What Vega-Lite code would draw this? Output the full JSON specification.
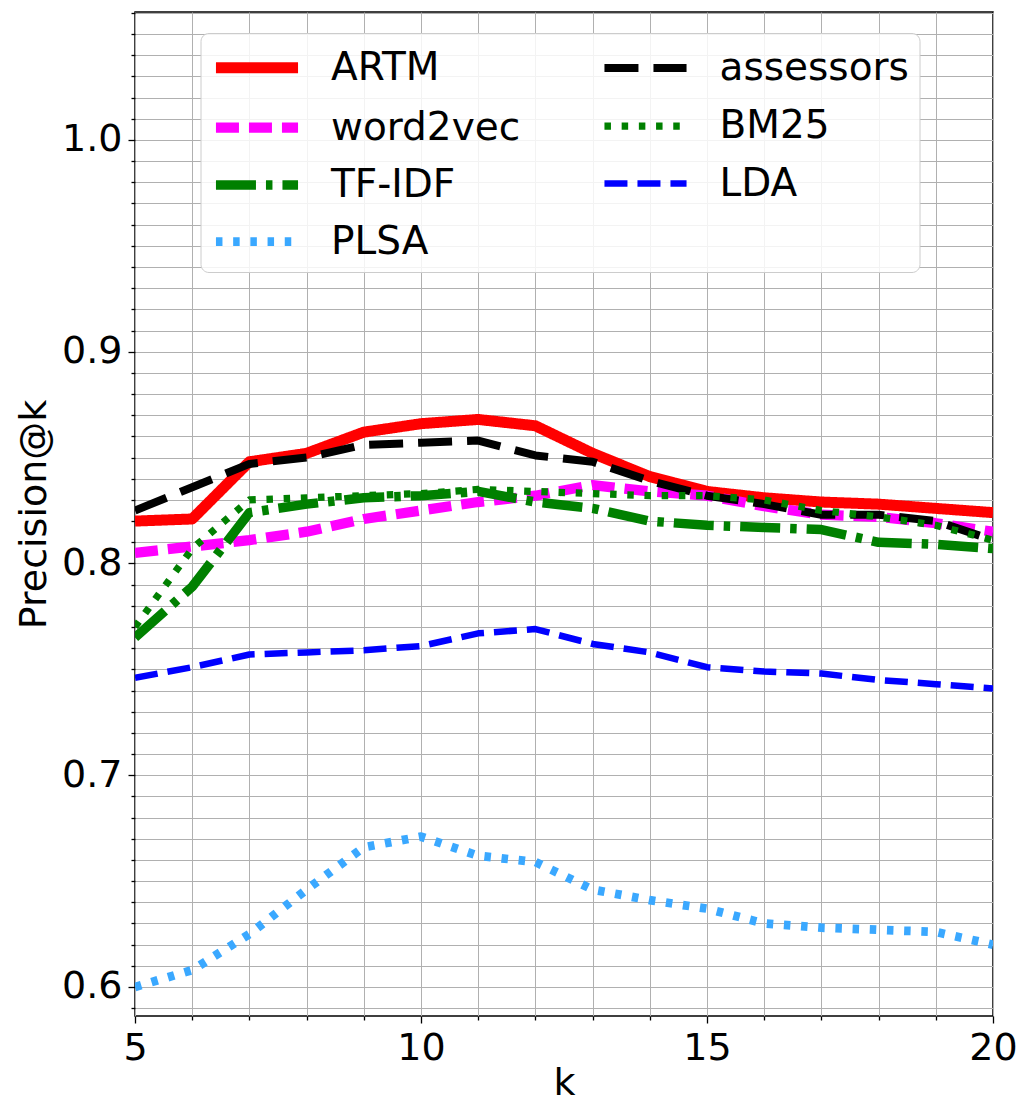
{
  "$schema": "https://vega.github.io/schema/vega-lite/v6.json",
  "width": 858,
  "height": 1004,
  "autosize": {"type": "none"},
  "padding": {"left": 135, "top": 12, "right": 30, "bottom": 89},
  "background": "white",
  "config": {
    "view": {"stroke": "black", "strokeWidth": 1.5},
    "font": "DejaVu Sans",
    "axis": {
      "labelFont": "DejaVu Sans",
      "titleFont": "DejaVu Sans",
      "labelFontSize": 38,
      "titleFontSize": 38,
      "titleFontWeight": "normal",
      "labelColor": "black",
      "titleColor": "black",
      "tickColor": "black",
      "domainColor": "black",
      "gridColor": "#b0b0b0",
      "gridWidth": 1,
      "gridOpacity": 1
    },
    "legend": {
      "orient": "none",
      "legendX": 65.5,
      "legendY": 21,
      "columns": 2,
      "symbolType": "M-2.16,0H2.16",
      "symbolSize": 1444,
      "symbolOffset": 22,
      "labelFont": "DejaVu Sans",
      "labelFontSize": 39,
      "labelColor": "black",
      "labelOffset": 49.5,
      "labelLimit": 0,
      "columnPadding": 67.5,
      "rowPadding": 13,
      "padding": 10,
      "cornerRadius": 8,
      "strokeColor": "#cccccc",
      "fillColor": "rgba(255,255,255,0.85)"
    }
  },
  "data": {
    "values": [
      {"k": 5, "method": "ARTM", "p": 0.820}, {"k": 6, "method": "ARTM", "p": 0.821}, {"k": 7, "method": "ARTM", "p": 0.848}, {"k": 8, "method": "ARTM", "p": 0.852},
      {"k": 9, "method": "ARTM", "p": 0.862}, {"k": 10, "method": "ARTM", "p": 0.866}, {"k": 11, "method": "ARTM", "p": 0.868}, {"k": 12, "method": "ARTM", "p": 0.865},
      {"k": 13, "method": "ARTM", "p": 0.852}, {"k": 14, "method": "ARTM", "p": 0.841}, {"k": 15, "method": "ARTM", "p": 0.834}, {"k": 16, "method": "ARTM", "p": 0.831},
      {"k": 17, "method": "ARTM", "p": 0.829}, {"k": 18, "method": "ARTM", "p": 0.828}, {"k": 19, "method": "ARTM", "p": 0.826}, {"k": 20, "method": "ARTM", "p": 0.824},

      {"k": 5, "method": "word2vec", "p": 0.805}, {"k": 6, "method": "word2vec", "p": 0.808}, {"k": 7, "method": "word2vec", "p": 0.811}, {"k": 8, "method": "word2vec", "p": 0.815},
      {"k": 9, "method": "word2vec", "p": 0.821}, {"k": 10, "method": "word2vec", "p": 0.825}, {"k": 11, "method": "word2vec", "p": 0.829}, {"k": 12, "method": "word2vec", "p": 0.832},
      {"k": 13, "method": "word2vec", "p": 0.837}, {"k": 14, "method": "word2vec", "p": 0.834}, {"k": 15, "method": "word2vec", "p": 0.832}, {"k": 16, "method": "word2vec", "p": 0.827},
      {"k": 17, "method": "word2vec", "p": 0.823}, {"k": 18, "method": "word2vec", "p": 0.822}, {"k": 19, "method": "word2vec", "p": 0.819}, {"k": 20, "method": "word2vec", "p": 0.815},

      {"k": 5, "method": "TF-IDF", "p": 0.765}, {"k": 6, "method": "TF-IDF", "p": 0.789}, {"k": 7, "method": "TF-IDF", "p": 0.824}, {"k": 8, "method": "TF-IDF", "p": 0.828},
      {"k": 9, "method": "TF-IDF", "p": 0.831}, {"k": 10, "method": "TF-IDF", "p": 0.832}, {"k": 11, "method": "TF-IDF", "p": 0.834}, {"k": 12, "method": "TF-IDF", "p": 0.829},
      {"k": 13, "method": "TF-IDF", "p": 0.826}, {"k": 14, "method": "TF-IDF", "p": 0.820}, {"k": 15, "method": "TF-IDF", "p": 0.818}, {"k": 16, "method": "TF-IDF", "p": 0.817},
      {"k": 17, "method": "TF-IDF", "p": 0.816}, {"k": 18, "method": "TF-IDF", "p": 0.810}, {"k": 19, "method": "TF-IDF", "p": 0.809}, {"k": 20, "method": "TF-IDF", "p": 0.807},

      {"k": 5, "method": "PLSA", "p": 0.600}, {"k": 6, "method": "PLSA", "p": 0.608}, {"k": 7, "method": "PLSA", "p": 0.625}, {"k": 8, "method": "PLSA", "p": 0.646},
      {"k": 9, "method": "PLSA", "p": 0.666}, {"k": 10, "method": "PLSA", "p": 0.671}, {"k": 11, "method": "PLSA", "p": 0.662}, {"k": 12, "method": "PLSA", "p": 0.659},
      {"k": 13, "method": "PLSA", "p": 0.646}, {"k": 14, "method": "PLSA", "p": 0.641}, {"k": 15, "method": "PLSA", "p": 0.637}, {"k": 16, "method": "PLSA", "p": 0.630},
      {"k": 17, "method": "PLSA", "p": 0.628}, {"k": 18, "method": "PLSA", "p": 0.627}, {"k": 19, "method": "PLSA", "p": 0.626}, {"k": 20, "method": "PLSA", "p": 0.620},

      {"k": 5, "method": "assessors", "p": 0.825}, {"k": 6, "method": "assessors", "p": 0.836}, {"k": 7, "method": "assessors", "p": 0.847}, {"k": 8, "method": "assessors", "p": 0.850},
      {"k": 9, "method": "assessors", "p": 0.856}, {"k": 10, "method": "assessors", "p": 0.857}, {"k": 11, "method": "assessors", "p": 0.858}, {"k": 12, "method": "assessors", "p": 0.851},
      {"k": 13, "method": "assessors", "p": 0.848}, {"k": 14, "method": "assessors", "p": 0.839}, {"k": 15, "method": "assessors", "p": 0.832}, {"k": 16, "method": "assessors", "p": 0.828},
      {"k": 17, "method": "assessors", "p": 0.823}, {"k": 18, "method": "assessors", "p": 0.823}, {"k": 19, "method": "assessors", "p": 0.820}, {"k": 20, "method": "assessors", "p": 0.811},

      {"k": 5, "method": "BM25", "p": 0.770}, {"k": 6, "method": "BM25", "p": 0.807}, {"k": 7, "method": "BM25", "p": 0.830}, {"k": 8, "method": "BM25", "p": 0.831},
      {"k": 9, "method": "BM25", "p": 0.832}, {"k": 10, "method": "BM25", "p": 0.833}, {"k": 11, "method": "BM25", "p": 0.835}, {"k": 12, "method": "BM25", "p": 0.834},
      {"k": 13, "method": "BM25", "p": 0.833}, {"k": 14, "method": "BM25", "p": 0.832}, {"k": 15, "method": "BM25", "p": 0.832}, {"k": 16, "method": "BM25", "p": 0.830},
      {"k": 17, "method": "BM25", "p": 0.825}, {"k": 18, "method": "BM25", "p": 0.822}, {"k": 19, "method": "BM25", "p": 0.818}, {"k": 20, "method": "BM25", "p": 0.811},

      {"k": 5, "method": "LDA", "p": 0.746}, {"k": 6, "method": "LDA", "p": 0.751}, {"k": 7, "method": "LDA", "p": 0.757}, {"k": 8, "method": "LDA", "p": 0.758},
      {"k": 9, "method": "LDA", "p": 0.759}, {"k": 10, "method": "LDA", "p": 0.761}, {"k": 11, "method": "LDA", "p": 0.767}, {"k": 12, "method": "LDA", "p": 0.769},
      {"k": 13, "method": "LDA", "p": 0.762}, {"k": 14, "method": "LDA", "p": 0.758}, {"k": 15, "method": "LDA", "p": 0.751}, {"k": 16, "method": "LDA", "p": 0.749},
      {"k": 17, "method": "LDA", "p": 0.748}, {"k": 18, "method": "LDA", "p": 0.745}, {"k": 19, "method": "LDA", "p": 0.743}, {"k": 20, "method": "LDA", "p": 0.741}
    ]
  },
  "mark": {"type": "line", "clip": true, "strokeJoin": "round"},
  "encoding": {
    "x": {
      "field": "k",
      "type": "quantitative",
      "scale": {"domain": [5, 20], "nice": false, "zero": false},
      "axis": {
        "title": "k",
        "values": [5, 6, 7, 8, 9, 10, 11, 12, 13, 14, 15, 16, 17, 18, 19, 20],
        "labelExpr": "datum.value % 5 == 0 ? datum.label : ''",
        "tickSize": {"condition": {"test": "datum.value % 5 == 0", "value": 7}, "value": 4},
        "tickWidth": 1.3,
        "labelPadding": 6,
        "titlePadding": -3,
        "labelFlush": false,
        "labelOverlap": false,
        "domain": false
      }
    },
    "y": {
      "field": "p",
      "type": "quantitative",
      "scale": {"domain": [0.5863, 1.0604], "nice": false, "zero": false},
      "axis": {
        "title": "Precision@k",
        "values": [0.59, 0.6, 0.61, 0.62, 0.63, 0.64, 0.65, 0.66, 0.67, 0.68, 0.69, 0.7, 0.71, 0.72, 0.73, 0.74, 0.75, 0.76, 0.77, 0.78, 0.79, 0.8, 0.81, 0.82, 0.83, 0.84, 0.85, 0.86, 0.87, 0.88, 0.89, 0.9, 0.91, 0.92, 0.93, 0.94, 0.95, 0.96, 0.97, 0.98, 0.99, 1.0, 1.01, 1.02, 1.03, 1.04, 1.05, 1.06],
        "labelExpr": "abs(datum.value * 10 - round(datum.value * 10)) < 0.0001 ? format(datum.value, '.1f') : ''",
        "tickSize": {"condition": {"test": "abs(datum.value * 10 - round(datum.value * 10)) < 0.0001", "value": 7}, "value": 4},
        "tickWidth": 1.3,
        "labelPadding": 6,
        "titlePadding": 8,
        "labelFlush": false,
        "labelOverlap": false,
        "domain": false
      }
    },
    "color": {
      "field": "method",
      "type": "nominal",
      "scale": {
        "domain": ["ARTM", "word2vec", "TF-IDF", "PLSA", "assessors", "BM25", "LDA"],
        "range": ["#ff0000", "#ff00ff", "#008000", "#3aa8ff", "#000000", "#008000", "#0000ff"]
      },
      "legend": {"title": null}
    },
    "strokeDash": {
      "field": "method",
      "type": "nominal",
      "scale": {
        "domain": ["ARTM", "word2vec", "TF-IDF", "PLSA", "assessors", "BM25", "LDA"],
        "range": [[1, 0], [23, 10], [40, 10, 6.5, 10], [6.5, 10.7], [34, 15], [6.5, 10.7], [23, 10]]
      },
      "legend": {"title": null}
    },
    "strokeWidth": {
      "field": "method",
      "type": "nominal",
      "scale": {
        "domain": ["ARTM", "word2vec", "TF-IDF", "PLSA", "assessors", "BM25", "LDA"],
        "range": [11, 6.5, 6.5, 6.5, 9, 6.5, 6.5]
      },
      "legend": {"title": null}
    }
  }
}
